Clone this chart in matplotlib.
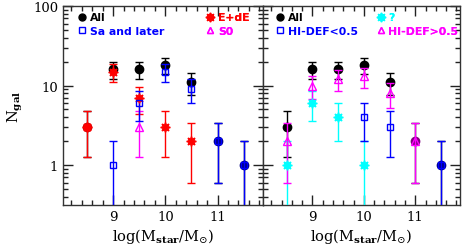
import numpy as np
import matplotlib
matplotlib.use("Agg")
import matplotlib.pyplot as plt
from matplotlib.ticker import FixedLocator, NullFormatter, MultipleLocator, FixedFormatter
from matplotlib.lines import Line2D

plt.rcParams['mathtext.fontset'] = 'dejavuserif'

logm = [8.5, 9.0, 9.5, 10.0, 10.5, 11.0, 11.5]

# left panel: morphology
n_all = [3, 16, 16, 18, 11, 2, 1]
n_sa = [0, 1, 6, 15, 9, 2, 1]
n_e = [3, 15, 7, 3, 2, 0, 0]
n_s0 = [0, 0, 3, 0, 0, 0, 0]

# right panel: HI deficiency
n_hilo = [0, 0, 0, 4, 3, 0, 1]
n_unk = [1, 6, 4, 1, 0, 0, 0]
n_hihi = [2, 10, 12, 13, 8, 2, 0]

all_face_left = ['#cc0000', 'black', 'black', 'black', 'black', '#000080', '#000080']
all_face_right = ['black', 'black', 'black', 'black', 'black', '#800080', '#000080']

W, H = 463, 251
fig = plt.figure(figsize=(W / 100, H / 100), dpi=100)
x0 = 63 / W
x1 = 263 / W
x2 = 460 / W
yb = 1 - 206 / H
yt = 1 - 7 / H
axL = fig.add_axes([x0, yb, x1 - x0, yt - yb])
axR = fig.add_axes([x1, yb, x2 - x1, yt - yb])

serif = 'DejaVu Serif'


def series(ax, vals, color, marker, ms, mfc, mew=1.0, z=3):
    xs = [x for x, v in zip(logm, vals) if v > 0]
    ys = [v for v in vals if v > 0]
    err = np.sqrt(ys)
    lo = np.minimum(err, np.array(ys) - 1e-3)
    ax.errorbar(xs, ys, yerr=[lo, err], fmt='none', ecolor=color, elinewidth=1.0,
                capsize=3, capthick=1.0, zorder=z)
    ax.plot(xs, ys, linestyle='none', marker=marker, ms=ms, mfc=mfc, mec=color,
            mew=mew, zorder=z + 0.5)


def all_series(ax, vals, faces):
    ys = np.array(vals, dtype=float)
    err = np.sqrt(ys)
    ax.errorbar(logm, ys, yerr=[np.minimum(err, ys - 1e-3), err], fmt='none',
                ecolor='black', elinewidth=1.0, capsize=3, capthick=1.0, zorder=2)
    for x, y, c in zip(logm, ys, faces):
        ax.plot([x], [y], linestyle='none', marker='o', ms=6, mfc=c, mec=c, zorder=2.5)


star = (8, 1, 0)

all_series(axL, n_all, all_face_left)
series(axL, n_e, 'red', star, 7, 'red')
series(axL, n_s0, 'magenta', '^', 5.5, 'none')
series(axL, n_sa, 'blue', 's', 5, 'none')

all_series(axR, n_all, all_face_right)
series(axR, n_unk, 'cyan', star, 7, 'cyan')
series(axR, n_hihi, 'magenta', '^', 5.5, 'none')
series(axR, n_hilo, 'blue', 's', 5, 'none')

for ax in (axL, axR):
    ax.set_yscale('log')
    ax.set_ylim(0.314, 100)
    ax.set_xlim(8.04, 11.87)
    ax.xaxis.set_major_locator(FixedLocator([9, 10, 11]))
    ax.xaxis.set_minor_locator(MultipleLocator(0.2))
    ax.tick_params(which='both', direction='in', top=True, right=True, color='#222222')
    ax.tick_params(which='major', length=7, width=1.0, labelsize=9.5)
    ax.tick_params(which='minor', length=3.5, width=1.0)
    for s in ax.spines.values():
        s.set_linewidth(1.0)
        s.set_color('#333333')
    for lab in ax.get_xticklabels() + ax.get_yticklabels():
        lab.set_fontfamily(serif)
    ax.set_xlabel(r'log(M$_{\mathbf{star}}$/M$_{\odot}$)', fontsize=10.5, family=serif,
                  labelpad=2)

axL.yaxis.set_major_locator(FixedLocator([1, 10, 100]))
axL.yaxis.set_major_formatter(FixedFormatter(['1', '10', '100']))
axR.yaxis.set_major_locator(FixedLocator([1, 10, 100]))
axR.yaxis.set_major_formatter(NullFormatter())
axR.yaxis.set_minor_formatter(NullFormatter())
axL.yaxis.set_minor_formatter(NullFormatter())
axL.set_ylabel(r'N$_{\mathbf{gal}}$', fontsize=10.5, family=serif, labelpad=6)
for lab in axL.get_yticklabels():
    lab.set_fontfamily(serif)


def legend(ax, entries, anchor):
    handles = [Line2D([], [], linestyle='none', marker=m, ms=ms, mfc=f, mec=c)
               for (lbl, c, m, ms, f) in entries]
    leg = ax.legend(handles, [e[0] for e in entries], loc='upper left',
                    bbox_to_anchor=anchor, frameon=False, handlelength=0.6,
                    handletextpad=0.4, borderpad=0, borderaxespad=0, labelspacing=0.35,
                    prop={'family': 'DejaVu Sans', 'weight': 'bold', 'size': 7.8})
    for t, e in zip(leg.get_texts(), entries):
        t.set_color(e[1])
    ax.add_artist(leg)


legend(axL, [('All', 'black', 'o', 5, 'black'), ('Sa and later', 'blue', 's', 4.5, 'none')],
       (0.08, 0.968))
legend(axL, [('E+dE', 'red', star, 6.5, 'red'), ('S0', 'magenta', '^', 5, 'none')],
       (0.72, 0.968))
legend(axR, [('All', 'black', 'o', 5, 'black'), ('HI-DEF<0.5', 'blue', 's', 4.5, 'none')],
       (0.07, 0.968))
legend(axR, [('?', 'cyan', star, 6.5, 'cyan'), ('HI-DEF>0.5', 'magenta', '^', 5, 'none')],
       (0.58, 0.968))

fig.savefig('out.png', dpi=100)
